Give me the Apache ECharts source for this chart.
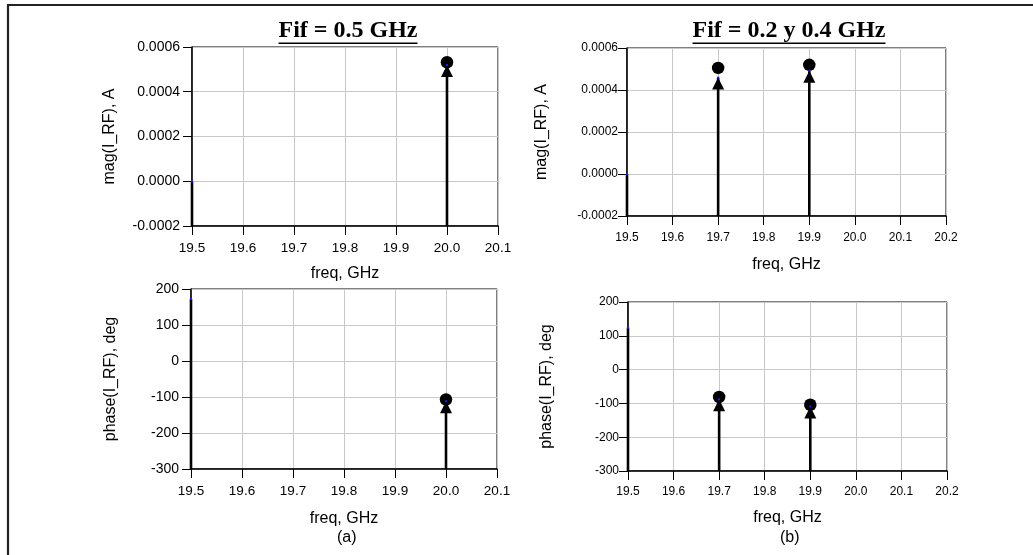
<!DOCTYPE html>
<html>
<head>
<meta charset="utf-8">
<script src="https://cdn.jsdelivr.net/npm/echarts@6/dist/echarts.min.js"></script>
<style>
html,body{margin:0;padding:0;background:#fff;}
#chart{width:1033px;height:555px;}
</style>
</head>
<body>
<div id="chart"></div>
<script>
// ---- data ----
const titleA = 'Fif = 0.5 GHz';
const titleB = 'Fif = 0.2 y 0.4 GHz';
const captionA = '(a)';
const captionB = '(b)';
const xName = 'freq, GHz';
const magName = 'mag(I_RF), A';
const phaseName = 'phase(I_RF), deg';

// panel (a)
const freqA = [19.5, 20.0];
const magA = [0.0, 0.00052];
const phaseA = [172, -112];
const markFreqA = [20.0];
const magMarkA = [0.000532];
const phaseMarkA = [-107];

// panel (b)
const freqB = [19.5, 19.7, 19.9];
const magB = [0.0, 0.000459, 0.000492];
const phaseB = [124, -88, -109];
const markFreqB = [19.7, 19.9];
const magMarkB = [0.000505, 0.00052];
const phaseMarkB = [-81, -104];

const magTicks = { min: -0.0002, max: 0.0006, interval: 0.0002 };
const phaseTicks = { min: -300, max: 200, interval: 100 };
const freqTicksA = { min: 19.5, max: 20.1, interval: 0.1 };
const freqTicksB = { min: 19.5, max: 20.2, interval: 0.1 };

// ---- chart ----
const FONT = "'Liberation Sans', Arial, sans-serif";
const chart = echarts.init(document.getElementById('chart'), null, { renderer: 'canvas' });

const grids = [
  { left: 192, top: 47, width: 306, height: 179 },
  { left: 627, top: 48, width: 319, height: 168 },
  { left: 191, top: 289, width: 306, height: 180 },
  { left: 628, top: 302, width: 319, height: 169 }
].map(g => Object.assign({ show: true, borderColor: '#000', borderWidth: 1, backgroundColor: '#fff' }, g));

function xAxisCfg(idx, ticks, fs, gap, margin) {
  return {
    type: 'value', gridIndex: idx, min: ticks.min, max: ticks.max, interval: ticks.interval,
    name: xName, nameLocation: 'middle', nameGap: gap,
    nameTextStyle: { fontFamily: FONT, fontSize: 16, color: '#000' },
    axisLine: { show: true, onZero: false, lineStyle: { color: '#000', width: 1.5 } },
    axisTick: { show: true, inside: false, length: 9, lineStyle: { color: '#000', width: 1 } },
    axisLabel: { fontFamily: FONT, fontSize: fs, color: '#000', margin: margin, formatter: v => v.toFixed(1) },
    splitLine: { show: true, lineStyle: { color: '#c8c8c8', width: 1 } }
  };
}
function yAxisCfg(idx, ticks, name, fs, gap, margin, digits) {
  return {
    type: 'value', gridIndex: idx, min: ticks.min, max: ticks.max, interval: ticks.interval,
    name: name, nameLocation: 'middle', nameGap: gap,
    nameTextStyle: { fontFamily: FONT, fontSize: 16, color: '#000' },
    axisLine: { show: true, onZero: false, lineStyle: { color: '#000', width: 1.5 } },
    axisTick: { show: true, inside: false, length: 9, lineStyle: { color: '#000', width: 1 } },
    axisLabel: { fontFamily: FONT, fontSize: fs, color: '#000', margin: margin, formatter: v => v.toFixed(digits) },
    splitLine: { show: true, lineStyle: { color: '#c8c8c8', width: 1 } }
  };
}

function stemSeries(idx, xs, ys) {
  return {
    type: 'custom', xAxisIndex: idx, yAxisIndex: idx, z: 5,
    data: xs.map((x, i) => [x, ys[i]]),
    renderItem: function (params, api) {
      const p = api.coord([api.value(0), api.value(1)]);
      const cs = params.coordSys;
      const bottom = cs.y + cs.height;
      return {
        type: 'line',
        shape: { x1: p[0], y1: bottom, x2: p[0], y2: p[1] },
        style: { stroke: '#000', lineWidth: 2.6 }
      };
    }
  };
}
function triSeries(idx, xs, ys) {
  return {
    type: 'scatter', xAxisIndex: idx, yAxisIndex: idx, z: 6,
    symbol: 'triangle', symbolSize: [12, 12], symbolOffset: [0, 6],
    itemStyle: { color: '#000', opacity: 1 },
    data: xs.map((x, i) => [x, ys[i]]).filter(d => d[0] !== xs[0]),
    silent: true
  };
}
function circleSeries(idx, xs, ys) {
  return {
    type: 'scatter', xAxisIndex: idx, yAxisIndex: idx, z: 7,
    symbol: 'circle', symbolSize: 12.5,
    itemStyle: { color: '#000', opacity: 1 },
    data: xs.map((x, i) => [x, ys[i]]),
    silent: true
  };
}
function dotSeries(idx, xs, ys) {
  return {
    type: 'scatter', xAxisIndex: idx, yAxisIndex: idx, z: 8,
    symbol: 'rect', symbolSize: 2,
    itemStyle: { color: '#1a1aff', opacity: 1 },
    data: xs.map((x, i) => [x, ys[i]]),
    silent: true
  };
}

// title text width measurement for underline
const TFONT = "bold 24px 'Liberation Serif', 'Times New Roman', serif";
const mctx = document.createElement('canvas').getContext('2d');
mctx.font = TFONT;
function titleGraphic(text, cx, cy) {
  const w = mctx.measureText(text).width;
  return [
    { type: 'text', left: cx - w / 2, top: cy - 14,
      style: { text: text, font: TFONT, fill: '#000' } },
    { type: 'rect', shape: { x: cx - w / 2, y: cy + 9.5, width: w, height: 1.6 },
      style: { fill: '#000' } }
  ];
}

const option = {
  animation: false,
  backgroundColor: '#fff',
  grid: grids,
  xAxis: [
    xAxisCfg(0, freqTicksA, 13.5, 40, 15),
    xAxisCfg(1, freqTicksB, 12, 41, 16),
    xAxisCfg(2, freqTicksA, 13.5, 42, 15),
    xAxisCfg(3, freqTicksB, 12, 39, 15)
  ],
  yAxis: [
    yAxisCfg(0, magTicks, magName, 14, 74, 12, 4),
    yAxisCfg(1, magTicks, magName, 12, 77, 9, 4),
    yAxisCfg(2, phaseTicks, phaseName, 14, 72, 12, 0),
    yAxisCfg(3, phaseTicks, phaseName, 12, 73, 9, 0)
  ],
  series: [
    stemSeries(0, freqA, magA), triSeries(0, freqA, magA), circleSeries(0, markFreqA, magMarkA), dotSeries(0, freqA, magA),
    stemSeries(1, freqB, magB), triSeries(1, freqB, magB), circleSeries(1, markFreqB, magMarkB), dotSeries(1, freqB, magB),
    stemSeries(2, freqA, phaseA), triSeries(2, freqA, phaseA), circleSeries(2, markFreqA, phaseMarkA), dotSeries(2, freqA, phaseA),
    stemSeries(3, freqB, phaseB), triSeries(3, freqB, phaseB), circleSeries(3, markFreqB, phaseMarkB), dotSeries(3, freqB, phaseB)
  ],
  graphic: [].concat(
    titleGraphic(titleA, 348, 33),
    titleGraphic(titleB, 789, 33),
    [
      { type: 'text', left: 348 - 11, top: 530, style: { text: captionA, font: "16px 'Liberation Sans', Arial, sans-serif", fill: '#000' } },
      { type: 'text', left: 791 - 11, top: 530, style: { text: captionB, font: "16px 'Liberation Sans', Arial, sans-serif", fill: '#000' } },
      { type: 'line', shape: { x1: 7, y1: 5, x2: 1033, y2: 5 }, style: { stroke: '#222', lineWidth: 2.2 } },
      { type: 'line', shape: { x1: 8, y1: 4, x2: 8, y2: 555 }, style: { stroke: '#222', lineWidth: 2.2 } }
    ]
  )
};
chart.setOption(option);
</script>
</body>
</html>
